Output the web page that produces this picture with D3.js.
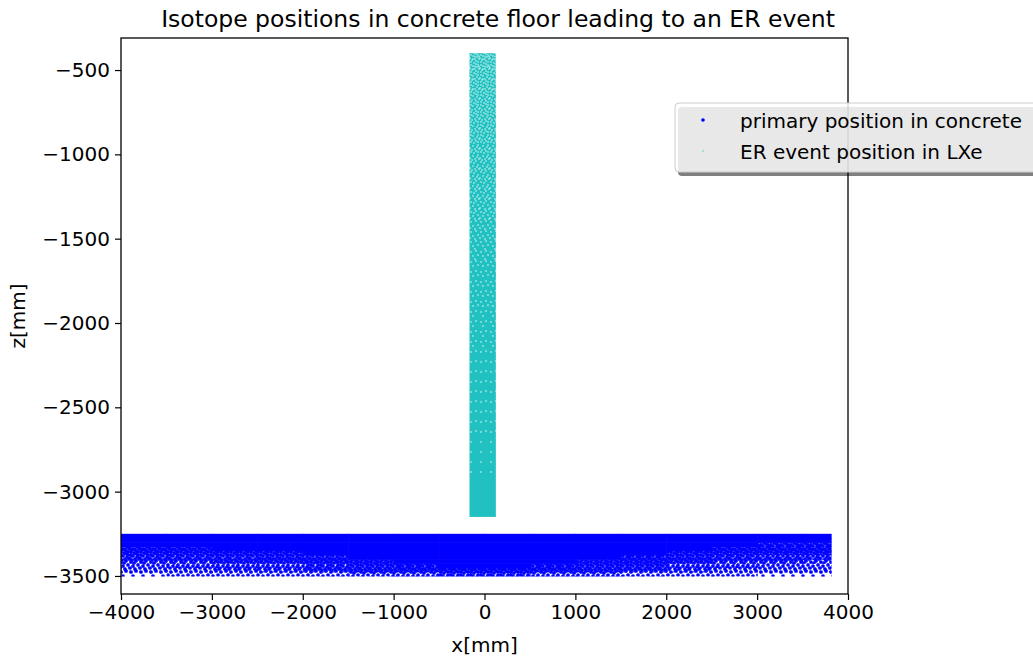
<!DOCTYPE html>
<html>
<head>
<meta charset="utf-8">
<script src="https://cdn.jsdelivr.net/npm/d3@7"></script>
<style>
  body { margin: 0; background: #fff; }
  text { font-family: "DejaVu Sans", sans-serif; fill: #000; }
</style>
</head>
<body>
<svg width="1033" height="659"></svg>
<script>
// x ticks / z ticks
const xTicks = [-4000, -3000, -2000, -1000, 0, 1000, 2000, 3000, 4000];
const zTicks = [-500, -1000, -1500, -2000, -2500, -3000, -3500];

// primary positions in concrete, binned: x edges, z row tops, density per row/column
const concreteXEdges = [-4000, -3500, -3000, -2500, -2000, -1500, -1000, -500, 0, 500, 1000, 1500, 2000, 2500, 3000, 3500, 3820];
const concreteZRows = [-3250, -3275, -3300, -3325, -3350, -3375, -3400, -3425, -3450, -3475];
const concreteRowStep = 25;
const concreteDensity = [
  [1, 1, 1, 1, 1, 1, 1, 1, 1, 1, 1, 1, 1, 1, 1, 1],
  [1, 1, 1, 1, 1, 1, 1, 1, 1, 1, 1, 1, 1, 1, 1, 1],
  [1, 1, 1, 1, 1, 1, 1, 1, 1, 1, 1, 1, 1, 1, 0.95, 0.95],
  [0.95, 0.95, 1, 1, 1, 1, 1, 1, 1, 1, 1, 1, 1, 0.95, 0.9, 0.9],
  [0.85, 0.9, 0.9, 0.95, 1, 1, 1, 1, 1, 1, 1, 1, 0.95, 0.85, 0.8, 0.8],
  [0.75, 0.75, 0.8, 0.85, 0.9, 1, 1, 1, 1, 1, 1, 0.95, 0.85, 0.75, 0.7, 0.7],
  [0.6, 0.65, 0.7, 0.75, 0.85, 0.95, 1, 1, 1, 1, 0.95, 0.9, 0.75, 0.65, 0.6, 0.55],
  [0.5, 0.55, 0.6, 0.65, 0.75, 0.85, 0.95, 1, 1, 0.95, 0.9, 0.8, 0.65, 0.55, 0.5, 0.45],
  [0.4, 0.4, 0.45, 0.5, 0.6, 0.75, 0.85, 0.95, 0.95, 0.9, 0.8, 0.65, 0.5, 0.4, 0.4, 0.35],
  [0.2, 0.25, 0.25, 0.3, 0.35, 0.5, 0.65, 0.75, 0.75, 0.65, 0.55, 0.4, 0.3, 0.25, 0.2, 0.2]
];

// ER event positions in LXe, binned along z
const lxeX = [-165, 125];
const lxeZTops = [-400, -525, -650, -775, -900, -1025, -1150, -1275, -1400, -1525, -1650, -1775, -1900, -2150, -2400, -2650, -2900];
const lxeBottom = -3150;
const lxeDensity = [0.5, 0.55, 0.6, 0.63, 0.66, 0.7, 0.73, 0.76, 0.8, 0.83, 0.86, 0.88, 0.9, 0.93, 0.95, 0.97, 1];

const svg = d3.select('svg');
const margin = { left: 121, right: 848, top: 38, bottom: 594 };

const x = d3.scaleLinear().domain([-4000, 4000]).range([margin.left, margin.right]);
const y = d3.scaleLinear().domain([-310, -3607]).range([margin.top, margin.bottom]);

const defs = svg.append('defs');
defs.append('clipPath').attr('id', 'clip')
  .append('rect')
  .attr('x', margin.left).attr('y', margin.top)
  .attr('width', margin.right - margin.left).attr('height', margin.bottom - margin.top);

// dot textures: spots inside a 10px tile, the first n are used for a level
const spots = [[1, 2], [6, 1], [3, 6], [8, 5], [5, 9], [0, 8], [9, 9], [4, 3], [7, 7], [2, 0], [8, 2], [1, 5], [6, 4], [3, 9], [9, 6.5], [5, 6.5]];
const levels = spots.length;
function texture(id, n, bg, dot, r, op) {
  const p = defs.append('pattern').attr('id', id)
    .attr('patternUnits', 'userSpaceOnUse').attr('width', 10).attr('height', 10);
  if (bg) p.append('rect').attr('width', 10).attr('height', 10).attr('fill', bg);
  spots.slice(0, n).forEach(s => {
    [[0, 0], [10, 0], [0, 10], [10, 10], [-10, 0], [0, -10]].forEach(o => {
      p.append('circle').attr('cx', s[0] + o[0]).attr('cy', s[1] + o[1]).attr('r', r).attr('fill', dot).attr('fill-opacity', op);
    });
  });
}
d3.range(1, levels + 1).forEach(n => texture('blue' + n, n, null, '#0000ff', 1.85, 1));
d3.range(0, levels + 1).forEach(n => texture('cyan' + n, n, '#22c1c1', '#ffffff', 0.9, 0.55));

const plot = svg.append('g').attr('clip-path', 'url(#clip)');

// concrete cells
const cells = [];
concreteZRows.forEach((z, i) => {
  concreteDensity[i].forEach((d, j) => {
    cells.push({ x0: concreteXEdges[j], x1: concreteXEdges[j + 1], z0: z, z1: z - concreteRowStep, d });
  });
});
plot.append('g')
  .selectAll('rect')
  .data(cells)
  .enter().append('rect')
  .attr('x', d => x(d.x0))
  .attr('y', d => y(d.z0))
  .attr('width', d => x(d.x1) - x(d.x0) + (d.x1 < 3820 ? 0.6 : 0))
  .attr('height', d => y(d.z1) - y(d.z0) + 0.6)
  .attr('fill', d => d.d >= 1 ? '#0000ff' : `url(#blue${Math.max(1, Math.round(d.d * levels))})`);

// LXe column
plot.append('g')
  .selectAll('rect')
  .data(lxeZTops.map((z, i) => ({ z0: z, z1: i + 1 < lxeZTops.length ? lxeZTops[i + 1] : lxeBottom, d: lxeDensity[i] })))
  .enter().append('rect')
  .attr('x', x(lxeX[0]))
  .attr('y', d => y(d.z0))
  .attr('width', x(lxeX[1]) - x(lxeX[0]))
  .attr('height', d => y(d.z1) - y(d.z0) + (d.z1 > lxeBottom ? 0.6 : 0))
  .attr('fill', d => `url(#cyan${Math.round((1 - d.d) * 2 * levels)})`);

// axes
const fmt = d => d3.format('d')(d).replace('-', '\u2212');
const xAxis = d3.axisBottom(x).tickValues(xTicks).tickSize(6).tickPadding(5).tickFormat(fmt);
const yAxis = d3.axisLeft(y).tickValues(zTicks).tickSize(6).tickPadding(5).tickFormat(fmt);

const gx = svg.append('g').attr('transform', `translate(0,${margin.bottom})`).call(xAxis);
const gy = svg.append('g').attr('transform', `translate(${margin.left},0)`).call(yAxis);
[gx, gy].forEach(g => {
  g.select('.domain').remove();
  g.selectAll('line').attr('stroke', '#000').attr('stroke-width', 1.2);
  g.selectAll('text').attr('font-size', 20).attr('font-family', '"DejaVu Sans", sans-serif').attr('fill', '#000');
});

svg.append('rect')
  .attr('x', margin.left).attr('y', margin.top)
  .attr('width', margin.right - margin.left).attr('height', margin.bottom - margin.top)
  .attr('fill', 'none').attr('stroke', '#000').attr('stroke-width', 1.3);

svg.append('text')
  .attr('x', 498).attr('y', 27)
  .attr('text-anchor', 'middle').attr('font-size', 23.5)
  .text('Isotope positions in concrete floor leading to an ER event');

svg.append('text')
  .attr('x', (margin.left + margin.right) / 2).attr('y', 652)
  .attr('text-anchor', 'middle').attr('font-size', 20)
  .text('x[mm]');

svg.append('text')
  .attr('transform', `translate(25,${(margin.top + margin.bottom) / 2}) rotate(-90)`)
  .attr('text-anchor', 'middle').attr('font-size', 20)
  .text('z[mm]');

// legend
const legend = svg.append('g').attr('transform', 'translate(675,103)');
legend.append('rect')
  .attr('x', 3).attr('y', 4).attr('width', 400).attr('height', 69).attr('rx', 4)
  .attr('fill', '#000').attr('fill-opacity', 0.5);
legend.append('rect')
  .attr('x', 0).attr('y', 0).attr('width', 400).attr('height', 69).attr('rx', 4)
  .attr('fill', '#fff').attr('fill-opacity', 0.82)
  .attr('stroke', '#ccc').attr('stroke-width', 1);
legend.append('circle').attr('cx', 28).attr('cy', 17).attr('r', 1.8).attr('fill', '#0000ff');
legend.append('circle').attr('cx', 28).attr('cy', 48).attr('r', 1.2).attr('fill', '#00bfbf').attr('fill-opacity', 0.3);
legend.append('text').attr('x', 65).attr('y', 25).attr('font-size', 20).text('primary position in concrete');
legend.append('text').attr('x', 65).attr('y', 56).attr('font-size', 20).text('ER event position in LXe');
</script>
</body>
</html>
